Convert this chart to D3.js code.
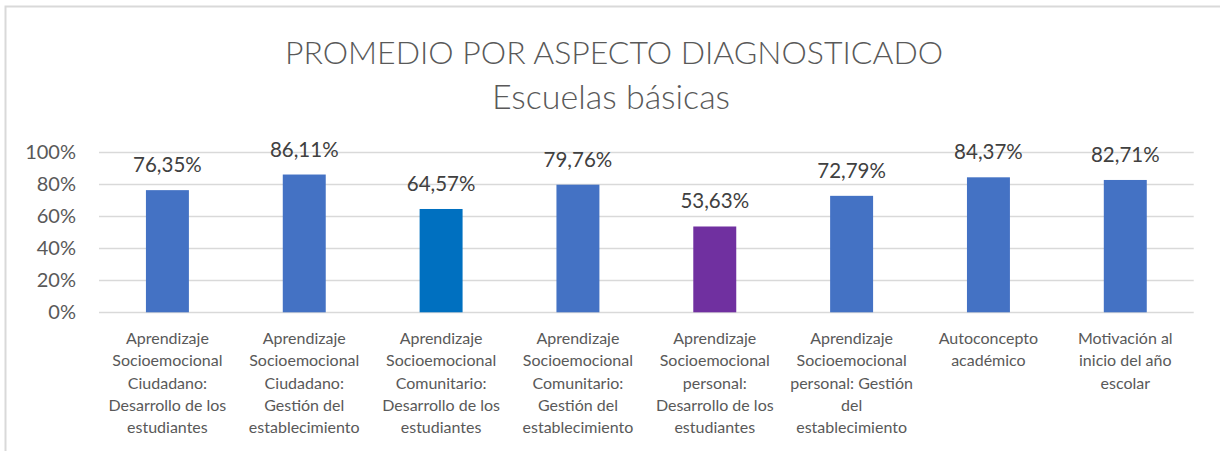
<!DOCTYPE html>
<html>
<head>
<meta charset="utf-8">
<script src="https://cdn.jsdelivr.net/npm/d3@7"></script>
<style>
html,body{margin:0;padding:0;background:#fff;}
svg{display:block;}
</style>
</head>
<body>
<script>
const categories = [
  "Aprendizaje\nSocioemocional\nCiudadano:\nDesarrollo de los\nestudiantes",
  "Aprendizaje\nSocioemocional\nCiudadano:\nGestión del\nestablecimiento",
  "Aprendizaje\nSocioemocional\nComunitario:\nDesarrollo de los\nestudiantes",
  "Aprendizaje\nSocioemocional\nComunitario:\nGestión del\nestablecimiento",
  "Aprendizaje\nSocioemocional\npersonal:\nDesarrollo de los\nestudiantes",
  "Aprendizaje\nSocioemocional\npersonal: Gestión\ndel\nestablecimiento",
  "Autoconcepto\nacadémico",
  "Motivación al\ninicio del año\nescolar"
];
const values = [0.7635, 0.8611, 0.6457, 0.7976, 0.5363, 0.7279, 0.8437, 0.8271];
const barColors = ["#4472C4", "#4472C4", "#0070C0", "#4472C4", "#7030A0", "#4472C4", "#4472C4", "#4472C4"];
const yTicks = [0, 0.2, 0.4, 0.6, 0.8, 1.0];
const titleText = "PROMEDIO POR ASPECTO DIAGNOSTICADO";
const subtitleText = "Escuelas básicas";

const W = 1220, H = 451;
const svg = d3.select("body").append("svg").attr("width", W).attr("height", H);
const FONT = "Lato, 'Open Sans', sans-serif";

// chart frame
svg.append("rect").attr("x", 5.5).attr("y", 6.5).attr("width", W + 10).attr("height", H + 10)
  .attr("fill", "#fff").attr("stroke", "#D9D9D9").attr("stroke-width", 2);

const x = d3.scaleBand().domain(categories).range([99, 1193.7]).paddingInner(0.686).paddingOuter(0.343);
const y = d3.scaleLinear().domain([0, 1]).range([312.3, 152.3]);

// gridlines
svg.append("g").selectAll("line").data(yTicks).join("line")
  .attr("x1", 99).attr("x2", 1193.7)
  .attr("y1", d => Math.round(y(d)) + 0.5).attr("y2", d => Math.round(y(d)) + 0.5)
  .attr("stroke", "#D9D9D9").attr("stroke-width", 1.3);

// y tick labels
const fmtTick = d3.format(".0%");
svg.append("g").selectAll("text").data(yTicks).join("text")
  .attr("x", 76).attr("y", d => y(d) + 7)
  .attr("text-anchor", "end")
  .attr("font-family", FONT).attr("font-size", 20).attr("fill", "#595959")
  .text(d => fmtTick(d));

// bars
svg.append("g").selectAll("rect").data(values).join("rect")
  .attr("x", (d, i) => x(categories[i]))
  .attr("width", x.bandwidth())
  .attr("y", d => y(d))
  .attr("height", d => y(0) - y(d))
  .attr("fill", (d, i) => barColors[i]);

// data labels
const fmtVal = d => d3.format(".2f")(d * 100).replace(".", ",") + "%";
svg.append("g").selectAll("text").data(values).join("text")
  .attr("x", (d, i) => x(categories[i]) + x.bandwidth() / 2)
  .attr("y", d => y(d) - 18)
  .attr("text-anchor", "middle")
  .attr("font-family", FONT).attr("font-size", 20.5).attr("fill", "#404040")
  .text(d => fmtVal(d));

// category labels
const cat = svg.append("g").selectAll("text").data(categories).join("text")
  .attr("x", d => x(d) + x.bandwidth() / 2)
  .attr("y", 344)
  .attr("text-anchor", "middle")
  .attr("font-family", FONT).attr("font-size", 16).attr("fill", "#595959");
cat.each(function(d) {
  const t = d3.select(this);
  const cx = x(d) + x.bandwidth() / 2;
  d.split("\n").forEach((line, i) => {
    t.append("tspan").attr("x", cx).attr("y", 344 + i * 22.3).text(line);
  });
});

// titles
svg.append("text").attr("x", 614).attr("y", 64)
  .attr("text-anchor", "middle").attr("font-family", FONT).attr("font-weight", 300)
  .attr("font-size", 32).attr("fill", "#595959").text(titleText);
svg.append("text").attr("x", 611).attr("y", 109)
  .attr("text-anchor", "middle").attr("font-family", FONT).attr("font-weight", 300)
  .attr("font-size", 34).attr("fill", "#595959").text(subtitleText);
</script>
</body>
</html>
